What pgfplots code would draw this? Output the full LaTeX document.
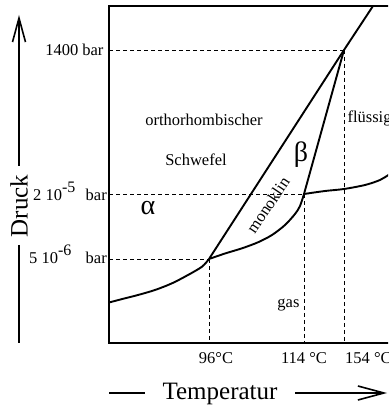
\documentclass[border=0pt]{standalone}
\usepackage{pgfplots}
\pgfplotsset{compat=1.18}
\usepackage{fontspec}
\setmainfont{Liberation Serif}
\usetikzlibrary{arrows.meta}
\newcommand{\lbl}{\fontsize{16.5}{18}\selectfont}
\newcommand{\biglbl}{\fontsize{25}{28}\selectfont}
\begin{document}
\begin{tikzpicture}
\path[use as bounding box] (0pt,0pt) rectangle (388pt,409pt);
\clip (0pt,0pt) rectangle (388pt,409pt);
\begin{axis}[at={(109pt,66pt)}, anchor=south west, scale only axis,
  width=311pt, height=337pt, xmin=109, xmax=420, ymin=66, ymax=403,
  xtick=\empty, ytick=\empty, axis line style={line width=1.9pt}, clip=false]
% dashed guide lines
\addplot[black, line width=0.8pt, dash pattern=on 4pt off 3pt] coordinates {(109,359)(344,359)};
\addplot[black, line width=0.8pt, dash pattern=on 4pt off 3pt] coordinates {(109,215)(304,215)};
\addplot[black, line width=0.8pt, dash pattern=on 4pt off 3pt] coordinates {(109,150)(209,150)};
\addplot[black, line width=0.8pt, dash pattern=on 4pt off 3pt] coordinates {(209,150)(209,66)};
\addplot[black, line width=0.8pt, dash pattern=on 4pt off 3pt] coordinates {(304,215)(304,66)};
\addplot[black, line width=0.8pt, dash pattern=on 4pt off 3pt] coordinates {(344,359)(344,66)};
% phase boundaries
\addplot[black, line width=1.9pt, smooth] coordinates {(109,106.5)(125,110.7)(138,114)(155,119)(172,125.7)(188,134)(202,142.3)(209,150)};
\addplot[black, line width=1.9pt, smooth] coordinates {(209,150)(225,155.5)(242,160.7)(258,166.7)(272,174)(285,184)(295,195)(300,203)(304,215)};
\addplot[black, line width=1.9pt, smooth] coordinates {(304,215)(325,218)(344,220)(365,224)(380,229)(390,235)(405,244)};
\addplot[black, line width=1.9pt] coordinates {(209,150)(344,359)(373,403)};
\addplot[black, line width=1.9pt] coordinates {(304,215)(344,359)};
% labels
\node[anchor=east, font=\lbl] at (axis cs:107,359) {1400 bar};
\node[anchor=base west, font=\lbl, inner sep=0pt] at (axis cs:33,208) {2 10\raisebox{8pt}{\fontsize{16}{16}\selectfont -5}};
\node[anchor=base east, font=\lbl, inner sep=0pt] at (axis cs:107,208) {bar};
\node[anchor=base west, font=\lbl, inner sep=0pt] at (axis cs:29,145.5) {5 10\raisebox{8pt}{\fontsize{16}{16}\selectfont -6}};
\node[anchor=base east, font=\lbl, inner sep=0pt] at (axis cs:107,145.5) {bar};
\node[font=\lbl] at (axis cs:204,289) {orthorhombischer};
\node[font=\lbl] at (axis cs:196,249) {Schwefel};
\node[anchor=west, font=\lbl] at (axis cs:344,291) {flüssig};
\node[anchor=east, font=\lbl] at (axis cs:303,104) {gas};
\node[font=\lbl, rotate=56] at (axis cs:268,204) {monoklin};
\node[font=\fontsize{28}{30}\selectfont] at (axis cs:148,201) {α};
\node[font=\fontsize{28}{30}\selectfont] at (axis cs:301,254) {β};
\node[font=\lbl] at (axis cs:216,51) {96°C};
\node[font=\lbl] at (axis cs:304,51) {114 °C};
\node[anchor=west, font=\lbl, inner xsep=0pt] at (axis cs:345,51) {154 °C};
\end{axis}
\node[font=\biglbl] at (220pt,15pt) {Temperatur};
\draw[line width=1.6pt] (109pt,16pt) -- (145pt,16pt);
\draw[line width=1.6pt, -{Straight Barb[length=26pt,width=14pt]}] (295pt,16pt) -- (387pt,16pt);
\node[font=\biglbl, rotate=90] at (19pt,203pt) {Druck};
\draw[line width=1.6pt, -{Straight Barb[length=24pt,width=13pt]}] (19pt,243pt) -- (19pt,394pt);
\draw[line width=1.6pt] (19pt,164pt) -- (19pt,66pt);
\end{tikzpicture}
\end{document}
